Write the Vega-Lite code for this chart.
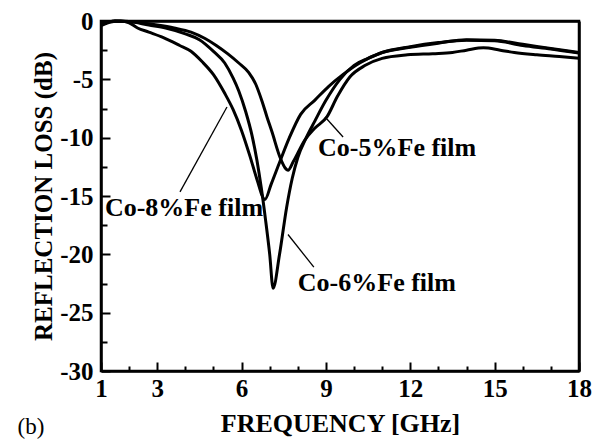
{
  "$schema": "https://vega.github.io/schema/vega-lite/v6.json",
  "width": 478,
  "height": 350,
  "autosize": "none",
  "padding": {"left": 101, "top": 21, "right": 17, "bottom": 70},
  "background": "white",
  "view": {"stroke": "black", "strokeWidth": 2.5},
  "config": {
    "view": {"stroke": "black", "strokeWidth": 2.5},
    "axis": {
      "domainColor": "black", "domainWidth": 2.5,
      "tickColor": "black", "tickWidth": 2,
      "labelFont": "Liberation Serif", "labelFontWeight": "bold", "labelFontSize": 25, "labelColor": "black",
      "titleFont": "Liberation Serif", "titleFontWeight": "bold", "titleFontSize": 26, "titleColor": "black",
      "grid": false
    }
  },
  "datasets": {
    "curves": [
      {"s": "Co-8%Fe", "f": 1.0, "rl": -0.4}, {"s": "Co-8%Fe", "f": 1.3, "rl": -0.12}, {"s": "Co-8%Fe", "f": 1.7, "rl": 0}, {"s": "Co-8%Fe", "f": 2.0, "rl": -0.15}, {"s": "Co-8%Fe", "f": 2.3, "rl": -0.6}, {"s": "Co-8%Fe", "f": 2.7, "rl": -0.95}, {"s": "Co-8%Fe", "f": 3.2, "rl": -1.4}, {"s": "Co-8%Fe", "f": 3.8, "rl": -2.1}, {"s": "Co-8%Fe", "f": 4.2, "rl": -2.6}, {"s": "Co-8%Fe", "f": 4.6, "rl": -3.5}, {"s": "Co-8%Fe", "f": 5.0, "rl": -4.6}, {"s": "Co-8%Fe", "f": 5.4, "rl": -6.2}, {"s": "Co-8%Fe", "f": 5.7, "rl": -7.6}, {"s": "Co-8%Fe", "f": 6.0, "rl": -9.4}, {"s": "Co-8%Fe", "f": 6.3, "rl": -11.6}, {"s": "Co-8%Fe", "f": 6.55, "rl": -13.6}, {"s": "Co-8%Fe", "f": 6.83, "rl": -15.3}, {"s": "Co-8%Fe", "f": 7.05, "rl": -14.0}, {"s": "Co-8%Fe", "f": 7.37, "rl": -12.0}, {"s": "Co-8%Fe", "f": 7.7, "rl": -10.0}, {"s": "Co-8%Fe", "f": 8.1, "rl": -8.0}, {"s": "Co-8%Fe", "f": 8.6, "rl": -6.8}, {"s": "Co-8%Fe", "f": 9.1, "rl": -5.6}, {"s": "Co-8%Fe", "f": 9.6, "rl": -4.6}, {"s": "Co-8%Fe", "f": 10.2, "rl": -3.6}, {"s": "Co-8%Fe", "f": 11.0, "rl": -2.7}, {"s": "Co-8%Fe", "f": 12.0, "rl": -2.25}, {"s": "Co-8%Fe", "f": 13.0, "rl": -1.9}, {"s": "Co-8%Fe", "f": 14.0, "rl": -1.6}, {"s": "Co-8%Fe", "f": 15.0, "rl": -1.65}, {"s": "Co-8%Fe", "f": 16.0, "rl": -2.0}, {"s": "Co-8%Fe", "f": 17.0, "rl": -2.35}, {"s": "Co-8%Fe", "f": 18.0, "rl": -2.7},
      {"s": "Co-6%Fe", "f": 1.0, "rl": -0.3}, {"s": "Co-6%Fe", "f": 1.5, "rl": 0}, {"s": "Co-6%Fe", "f": 2.0, "rl": -0.05}, {"s": "Co-6%Fe", "f": 2.7, "rl": -0.35}, {"s": "Co-6%Fe", "f": 3.3, "rl": -0.6}, {"s": "Co-6%Fe", "f": 4.0, "rl": -1.1}, {"s": "Co-6%Fe", "f": 4.5, "rl": -1.6}, {"s": "Co-6%Fe", "f": 5.0, "rl": -2.6}, {"s": "Co-6%Fe", "f": 5.4, "rl": -3.6}, {"s": "Co-6%Fe", "f": 5.7, "rl": -4.9}, {"s": "Co-6%Fe", "f": 5.9, "rl": -6.0}, {"s": "Co-6%Fe", "f": 6.15, "rl": -7.8}, {"s": "Co-6%Fe", "f": 6.37, "rl": -9.8}, {"s": "Co-6%Fe", "f": 6.55, "rl": -12.0}, {"s": "Co-6%Fe", "f": 6.7, "rl": -14.3}, {"s": "Co-6%Fe", "f": 6.85, "rl": -17.0}, {"s": "Co-6%Fe", "f": 7.0, "rl": -20.0}, {"s": "Co-6%Fe", "f": 7.12, "rl": -22.9}, {"s": "Co-6%Fe", "f": 7.35, "rl": -20.0}, {"s": "Co-6%Fe", "f": 7.6, "rl": -16.0}, {"s": "Co-6%Fe", "f": 7.8, "rl": -13.5}, {"s": "Co-6%Fe", "f": 8.0, "rl": -11.7}, {"s": "Co-6%Fe", "f": 8.3, "rl": -10.0}, {"s": "Co-6%Fe", "f": 8.6, "rl": -8.6}, {"s": "Co-6%Fe", "f": 9.0, "rl": -6.8}, {"s": "Co-6%Fe", "f": 9.5, "rl": -5.0}, {"s": "Co-6%Fe", "f": 10.0, "rl": -3.8}, {"s": "Co-6%Fe", "f": 10.5, "rl": -3.2}, {"s": "Co-6%Fe", "f": 11.0, "rl": -2.7}, {"s": "Co-6%Fe", "f": 12.0, "rl": -2.2}, {"s": "Co-6%Fe", "f": 13.0, "rl": -1.85}, {"s": "Co-6%Fe", "f": 14.0, "rl": -1.65}, {"s": "Co-6%Fe", "f": 15.0, "rl": -1.7}, {"s": "Co-6%Fe", "f": 16.0, "rl": -2.1}, {"s": "Co-6%Fe", "f": 17.0, "rl": -2.4}, {"s": "Co-6%Fe", "f": 18.0, "rl": -2.75},
      {"s": "Co-5%Fe", "f": 1.0, "rl": -0.3}, {"s": "Co-5%Fe", "f": 1.5, "rl": 0}, {"s": "Co-5%Fe", "f": 2.0, "rl": -0.05}, {"s": "Co-5%Fe", "f": 3.0, "rl": -0.35}, {"s": "Co-5%Fe", "f": 3.6, "rl": -0.6}, {"s": "Co-5%Fe", "f": 4.2, "rl": -0.95}, {"s": "Co-5%Fe", "f": 4.7, "rl": -1.5}, {"s": "Co-5%Fe", "f": 5.1, "rl": -2.1}, {"s": "Co-5%Fe", "f": 5.5, "rl": -2.8}, {"s": "Co-5%Fe", "f": 5.9, "rl": -3.6}, {"s": "Co-5%Fe", "f": 6.25, "rl": -4.4}, {"s": "Co-5%Fe", "f": 6.5, "rl": -5.4}, {"s": "Co-5%Fe", "f": 6.73, "rl": -6.9}, {"s": "Co-5%Fe", "f": 6.9, "rl": -8.2}, {"s": "Co-5%Fe", "f": 7.08, "rl": -9.5}, {"s": "Co-5%Fe", "f": 7.37, "rl": -11.7}, {"s": "Co-5%Fe", "f": 7.55, "rl": -12.6}, {"s": "Co-5%Fe", "f": 7.65, "rl": -12.8}, {"s": "Co-5%Fe", "f": 7.85, "rl": -12.0}, {"s": "Co-5%Fe", "f": 8.25, "rl": -10.2}, {"s": "Co-5%Fe", "f": 8.6, "rl": -9.2}, {"s": "Co-5%Fe", "f": 9.04, "rl": -8.2}, {"s": "Co-5%Fe", "f": 9.4, "rl": -6.5}, {"s": "Co-5%Fe", "f": 9.85, "rl": -4.8}, {"s": "Co-5%Fe", "f": 10.4, "rl": -3.8}, {"s": "Co-5%Fe", "f": 11.0, "rl": -3.2}, {"s": "Co-5%Fe", "f": 11.9, "rl": -2.9}, {"s": "Co-5%Fe", "f": 12.8, "rl": -2.8}, {"s": "Co-5%Fe", "f": 13.5, "rl": -2.7}, {"s": "Co-5%Fe", "f": 14.0, "rl": -2.5}, {"s": "Co-5%Fe", "f": 14.6, "rl": -2.3}, {"s": "Co-5%Fe", "f": 15.2, "rl": -2.5}, {"s": "Co-5%Fe", "f": 15.7, "rl": -2.7}, {"s": "Co-5%Fe", "f": 16.5, "rl": -2.9}, {"s": "Co-5%Fe", "f": 17.3, "rl": -3.05}, {"s": "Co-5%Fe", "f": 18.0, "rl": -3.2}
    ],
    "arrows": [
      {"f": 3.81, "rl": -14.65, "f2": 5.48, "rl2": -7.37},
      {"f": 7.65, "rl": -18.3, "f2": 8.57, "rl2": -21.1},
      {"f": 8.97, "rl": -8.23, "f2": 9.61, "rl2": -9.94}
    ],
    "labels": [
      {"f": 8.72, "rl": -10.9, "t": "Co-5%Fe film"},
      {"f": 1.14, "rl": -16.0, "t": "Co-8%Fe film"},
      {"f": 8.0, "rl": -22.45, "t": "Co-6%Fe film"}
    ],
    "panel": [
      {"f": -1.49, "rl": -34.8, "t": "(b)"}
    ]
  },
  "layer": [
    {
      "data": {"name": "curves"},
      "mark": {"type": "line", "strokeWidth": 3, "color": "black", "interpolate": "monotone"},
      "encoding": {
        "x": {
          "field": "f", "type": "quantitative",
          "scale": {"domain": [1, 18], "nice": false, "zero": false},
          "axis": {"orient": "bottom", "zindex": 1, "values": [1, 3, 6, 9, 12, 15, 18], "ticks": true, "tickSize": -9, "tickColor": "black", "tickWidth": 2, "tickOpacity": 1, "domain": true, "domainColor": "black", "domainWidth": 2.5, "labelPadding": 14, "labelFlush": false, "title": "FREQUENCY [GHz]", "titlePadding": 9}
        },
        "y": {
          "field": "rl", "type": "quantitative",
          "scale": {"domain": [-30, 0], "nice": false, "zero": false},
          "axis": {"orient": "left", "zindex": 1, "values": [0, -5, -10, -15, -20, -25, -30], "ticks": true, "tickSize": -9, "tickColor": "black", "tickWidth": 2, "tickOpacity": 1, "domain": true, "domainColor": "black", "domainWidth": 2.5, "labelPadding": 17, "labelFlush": false, "labelExpr": "'' + datum.value", "title": "REFLECTION LOSS (dB)", "titleFontSize": 25, "titlePadding": 3}
        },
        "detail": {"field": "s"}
      }
    },
    {
      "data": {"name": "arrows"},
      "mark": {"type": "rule", "strokeWidth": 1.3, "color": "black"},
      "encoding": {
        "x": {"field": "f", "type": "quantitative", "scale": {"domain": [1, 18], "nice": false, "zero": false}, "axis": {"orient": "bottom", "zindex": 1, "values": [2, 4, 5, 7, 8, 10, 11, 13, 14, 16, 17], "ticks": true, "tickSize": -5, "tickColor": "black", "tickWidth": 2, "tickOpacity": 1, "labels": false, "domain": false, "title": null}},
        "y": {"field": "rl", "type": "quantitative", "scale": {"domain": [-30, 0], "nice": false, "zero": false}, "axis": {"orient": "right", "zindex": 1, "ticks": false, "labels": false, "domain": true, "domainColor": "black", "domainWidth": 2.5, "domainOpacity": 1, "title": null}},
        "x2": {"field": "f2"},
        "y2": {"field": "rl2"}
      }
    },
    {
      "data": {"name": "labels"},
      "mark": {"type": "text", "align": "left", "baseline": "middle", "font": "Liberation Serif", "fontWeight": "bold", "fontSize": 26, "color": "black"},
      "encoding": {
        "x": {"field": "f", "type": "quantitative", "scale": {"domain": [1, 18], "nice": false, "zero": false}, "axis": {"orient": "top", "zindex": 1, "ticks": false, "labels": false, "domain": true, "domainColor": "black", "domainWidth": 2.5, "domainOpacity": 1, "title": null}},
        "y": {"field": "rl", "type": "quantitative", "scale": {"domain": [-30, 0], "nice": false, "zero": false}, "axis": {"orient": "left", "zindex": 1, "values": [-2.5, -7.5, -12.5, -17.5, -22.5, -27.5], "ticks": true, "tickSize": -6, "tickColor": "black", "tickWidth": 2, "tickOpacity": 1, "labels": false, "domain": false, "title": null}},
        "text": {"field": "t"}
      }
    },
    {
      "data": {"name": "panel"},
      "mark": {"type": "text", "align": "center", "baseline": "middle", "font": "Liberation Serif", "fontSize": 23, "color": "black"},
      "encoding": {
        "x": {"field": "f", "type": "quantitative", "scale": {"domain": [1, 18], "nice": false, "zero": false}, "axis": null},
        "y": {"field": "rl", "type": "quantitative", "scale": {"domain": [-30, 0], "nice": false, "zero": false}, "axis": null},
        "text": {"field": "t"}
      }
    }
  ],
  "resolve": {"scale": {"x": "independent", "y": "independent"}, "axis": {"x": "independent", "y": "independent"}}
}
